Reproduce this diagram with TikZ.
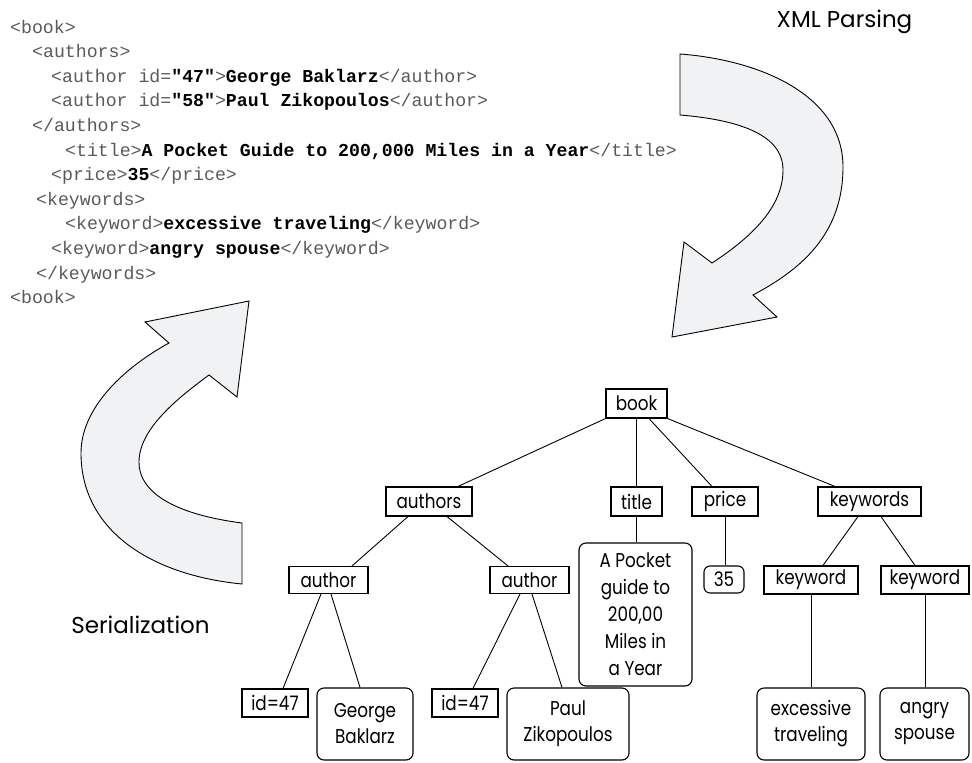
\documentclass[tikz,border=0pt]{standalone}
\usepackage{fontspec}
\setmainfont{Poppins}
\newfontfamily\xmlfont{Liberation Mono}
\newfontfamily\lblfont{Poppins}
\newfontfamily\treefont[FakeStretch=0.84]{Poppins}
\definecolor{tagc}{HTML}{5A5A5A}
\definecolor{arrowfill}{HTML}{F1F2F4}
\newcommand\tg[1]{\textcolor{tagc}{#1}}
\newcommand\bd[1]{\textbf{#1}}
\tikzset{
  xmlline/.style={anchor=base west, inner sep=0pt, font=\xmlfont\fontsize{18.2}{20}\selectfont},
  tbox/.style={draw, line width=1.1pt, inner sep=0pt, font=\treefont\fontsize{20}{26}\selectfont, align=center},
  rbox/.style={tbox, rounded corners=7pt},
  edge/.style={line width=0.9pt},
  bigarrow/.style={draw, line width=0.9pt, fill=arrowfill, line join=miter},
  biglabel/.style={anchor=base, inner sep=0pt, font=\lblfont\fontsize{23}{26}\selectfont}
}
\begin{document}
\begin{tikzpicture}[x=1pt,y=-1pt]
\useasboundingbox (0,0) rectangle (972,763);
% XML text
\node[xmlline] (x1) at (10,33) {\tg{<book>}};
\node[xmlline] (x2) at (32,57.6) {\tg{<authors>}};
\node[xmlline] (x3) at (51,82.2) {\tg{<author id=}\bd{"47"}\tg{>}\bd{George Baklarz}\tg{</author>}};
\node[xmlline] (x4) at (51,106.8) {\tg{<author id=}\bd{"58"}\tg{>}\bd{Paul Zikopoulos}\tg{</author>}};
\node[xmlline] (x5) at (32,131.4) {\tg{</authors>}};
\node[xmlline] (x6) at (65,156) {\tg{<title>}\bd{A Pocket Guide to 200,000 Miles in a Year}\tg{</title>}};
\node[xmlline] (x7) at (51,180.6) {\tg{<price>}\bd{35}\tg{</price>}};
\node[xmlline] (x8) at (36,205.2) {\tg{<keywords>}};
\node[xmlline] (x9) at (65,229.8) {\tg{<keyword>}\bd{excessive traveling}\tg{</keyword>}};
\node[xmlline] (x10) at (51,254.4) {\tg{<keyword>}\bd{angry spouse}\tg{</keyword>}};
\node[xmlline] (x11) at (36,279) {\tg{</keywords>}};
\node[xmlline] (x12) at (10,303.6) {\tg{<book>}};
% big arrows
\draw[bigarrow] (680,54) .. controls (760,60) and (843,95) .. (843,167)
  .. controls (843,235) and (800,270) .. (753,295) -- (777,317) -- (672,337) -- (684,242) -- (712,263)
  .. controls (755,235) and (783,205) .. (783,170)
  .. controls (783,135) and (740,120) .. (680,115) -- cycle;
\draw[bigarrow] (242,584) .. controls (150,575) and (81,530) .. (81,453)
  .. controls (81,410) and (120,370) .. (169,343) -- (145,322) -- (249,301) -- (237,397) -- (209,375)
  .. controls (175,400) and (139,430) .. (139,462)
  .. controls (139,495) and (180,515) .. (242,523) -- cycle;
\node[biglabel] (parse) at (844.5,27) {XML Parsing};
\node[biglabel] (ser) at (140.5,633) {Serialization};
% tree nodes
\node[tbox, minimum width=61pt, minimum height=29pt] (book) at (636.5,403.5) {book};
\node[tbox, minimum width=86pt, minimum height=29pt] (authors) at (429,501.5) {authors};
\node[tbox, minimum width=51pt, minimum height=29pt] (title) at (636.5,501.5) {title};
\node[tbox, minimum width=66pt, minimum height=29pt] (price) at (725,501.5) {price};
\node[tbox, minimum width=103pt, minimum height=29pt] (keywords) at (869.5,501.5) {keywords};
\node[tbox, minimum width=79pt, minimum height=27pt] (author1) at (328.5,580) {author};
\node[tbox, minimum width=79pt, minimum height=27pt] (author2) at (529.5,580) {author};
\node[rbox, minimum width=113pt, minimum height=143pt, font=\treefont\fontsize{20}{27}\selectfont] (ttext) at (635.5,614.5) {A Pocket\\guide to\\200,00\\Miles in\\a Year};
\node[rbox, minimum width=40pt, minimum height=27pt, rounded corners=6pt] (n35) at (724,579.5) {35};
\node[tbox, minimum width=94pt, minimum height=28pt] (kw1) at (811,580) {keyword};
\node[tbox, minimum width=88pt, minimum height=28pt] (kw2) at (925,580) {keyword};
\node[tbox, minimum width=66pt, minimum height=28pt] (id1) at (275,703) {id=47};
\node[rbox, minimum width=96pt, minimum height=72pt] (george) at (365,724) {George\\Baklarz};
\node[tbox, minimum width=66pt, minimum height=28pt] (id2) at (465,703) {id=47};
\node[rbox, minimum width=122pt, minimum height=72pt] (paul) at (568,724) {Paul\\Zikopoulos};
\node[rbox, minimum width=108pt, minimum height=72pt] (exc) at (811,724) {excessive\\traveling};
\node[rbox, minimum width=89pt, minimum height=72pt] (angry) at (924.5,724) {angry\\spouse};
% edges
\draw[edge] (book.south west) -- ([xshift=29pt]authors.north);
\draw[edge] (book.south) -- (title.north);
\draw[edge] ([xshift=12.5pt]book.south) -- ([xshift=-13pt]price.north);
\draw[edge] (book.south east) -- ([xshift=-34.5pt]keywords.north);
\draw[edge] ([xshift=-21pt]authors.south) -- ([xshift=23.5pt]author1.north);
\draw[edge] ([xshift=18pt]authors.south) -- ([xshift=-21.5pt]author2.north);
\draw[edge] (title.south) -- (title.south |- ttext.north);
\draw[edge] (price.south) -- (price.south |- n35.north);
\draw[edge] ([xshift=-11.5pt]keywords.south) -- ([xshift=12pt]kw1.north);
\draw[edge] ([xshift=11.5pt]keywords.south) -- ([xshift=-10pt]kw2.north);
\draw[edge] (kw1.south) -- (exc.north);
\draw[edge] (kw2.south) -- (kw2.south |- angry.north);
\draw[edge] ([xshift=-7.5pt]author1.south) -- ([xshift=8pt]id1.north);
\draw[edge] ([xshift=2.5pt]author1.south) -- ([xshift=-5pt]george.north);
\draw[edge] ([xshift=-9.5pt]author2.south) -- ([xshift=8pt]id2.north);
\draw[edge] ([xshift=2.5pt]author2.south) -- ([xshift=-6pt]paul.north);
\end{tikzpicture}
\end{document}
